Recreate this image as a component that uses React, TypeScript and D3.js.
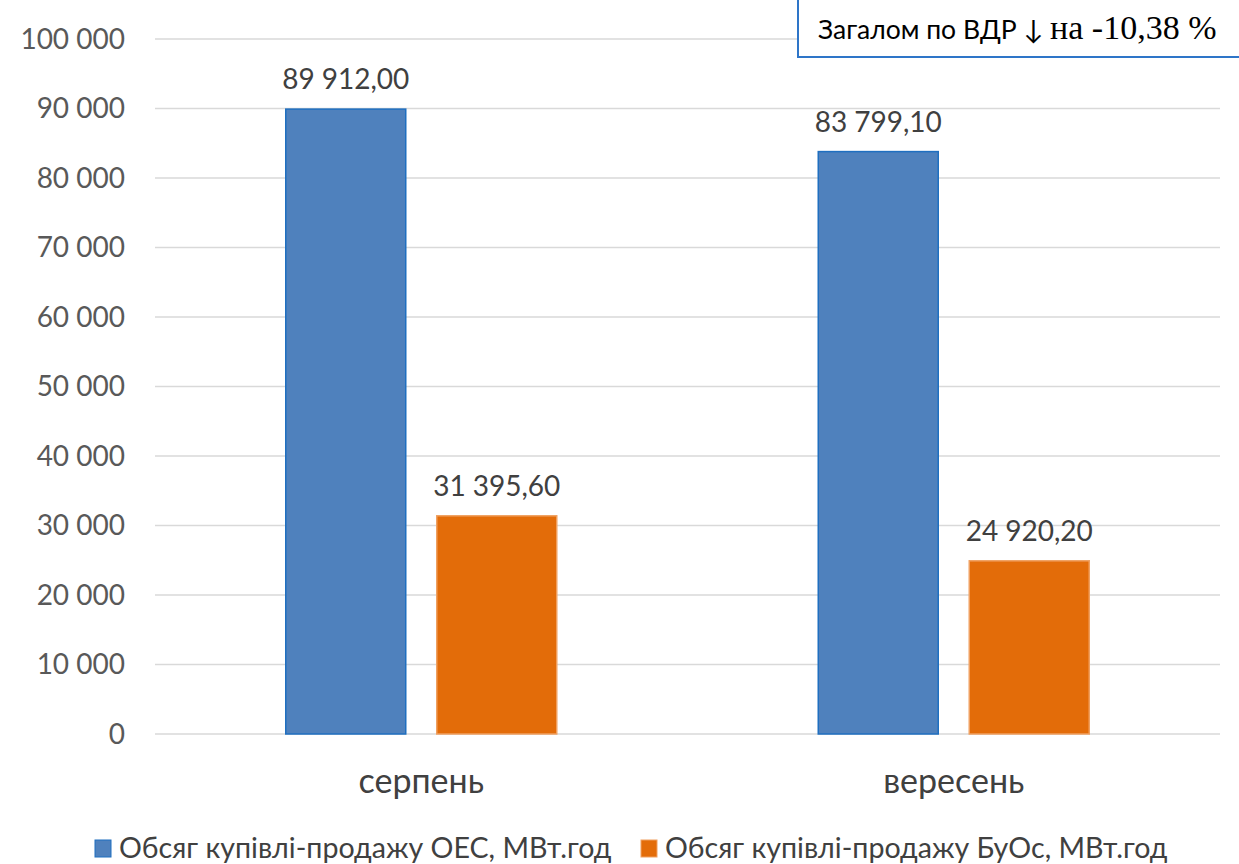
import React from "react";
import * as d3 from "d3";

const categories = ["серпень", "вересень"];
const seriesNames = ["Обсяг купівлі-продажу ОЕС, МВт.год", "Обсяг купівлі-продажу БуОс, МВт.год"];
const oesValues = [89912.0, 83799.1];
const buosValues = [31395.6, 24920.2];
const yTicks = [0, 10000, 20000, 30000, 40000, 50000, 60000, 70000, 80000, 90000, 100000];
const colors = ["#4F81BD", "#E36C09"];
const strokes = ["#1F6FC0", "#F0A060"];

const W = 1239, H = 864;
const left = 155, right = 1220, top = 39, bottom = 734;
const font = "Lato, 'Open Sans', sans-serif";

const fmtTick = (v: number) => {
  const s = String(v);
  return s.replace(/\B(?=(\d{3})+(?!\d))/g, " ");
};
const fmtVal = (v: number) => {
  const [i, d] = v.toFixed(2).split(".");
  return i.replace(/\B(?=(\d{3})+(?!\d))/g, " ") + "," + d;
};

export default function App() {
  const x = d3.scaleBand().domain(categories).range([left, right]).paddingInner(0).paddingOuter(0);
  const y = d3.scaleLinear().domain([0, 100000]).range([bottom, top]);
  const series = [oesValues, buosValues];
  const bw = 120;
  const gap = 31;
  return (
    <svg width={W} height={H} style={{ position: "absolute", left: 0, top: 0, background: "#fff" }}>
      <rect x={0} y={0} width={W} height={H} fill="#fff" />
      {yTicks.map((t) => (
        <g key={t}>
          <line x1={left} x2={right} y1={y(t)} y2={y(t)} stroke="#D9D9D9" strokeWidth={1.5} />
          <text x={125} y={y(t)} dy="0.35em" textAnchor="end" fontFamily={font} fontSize={28} fill="#595959">
            {fmtTick(t)}
          </text>
        </g>
      ))}
      {categories.map((c, ci) => {
        const cx = (x(c) as number) + x.bandwidth() / 2;
        const total = 2 * bw + gap;
        return (
          <g key={c}>
            {series.map((vals, si) => {
              const bx = cx - total / 2 + si * (bw + gap);
              const v = vals[ci];
              return (
                <g key={si}>
                  <rect x={bx} y={y(v)} width={bw} height={y(0) - y(v)} fill={colors[si]} stroke={strokes[si]} strokeWidth={1.5} />
                  <text x={bx + bw / 2} y={y(v) - 20} textAnchor="middle" fontFamily={font} fontSize={28} fill="#404040">
                    {fmtVal(v)}
                  </text>
                </g>
              );
            })}
            <text x={cx} y={793} textAnchor="middle" fontFamily={font} fontSize={34} fill="#404040">
              {c}
            </text>
          </g>
        );
      })}
      <rect x={798} y={-5} width={460} height={62} fill="#fff" stroke="#2E75C8" strokeWidth={2} />
      <text x={818} y={39} fontSize={26.5} fill="#000">
        <tspan fontFamily={font}>Загалом по ВДР ↓ </tspan>
        <tspan fontFamily="'Liberation Serif', 'Times New Roman', serif" fontSize={34}>на -10,38 %</tspan>
      </text>
      {seriesNames.map((n, i) => {
        const lx = i === 0 ? 95 : 641;
        return (
          <g key={n}>
            <rect x={lx} y={840} width={16} height={17} fill={colors[i]} stroke={strokes[i]} strokeWidth={1} />
            <text x={lx + 24} y={858} fontFamily={font} fontSize={28.6} fill="#404040">
              {n}
            </text>
          </g>
        );
      })}
    </svg>
  );
}
